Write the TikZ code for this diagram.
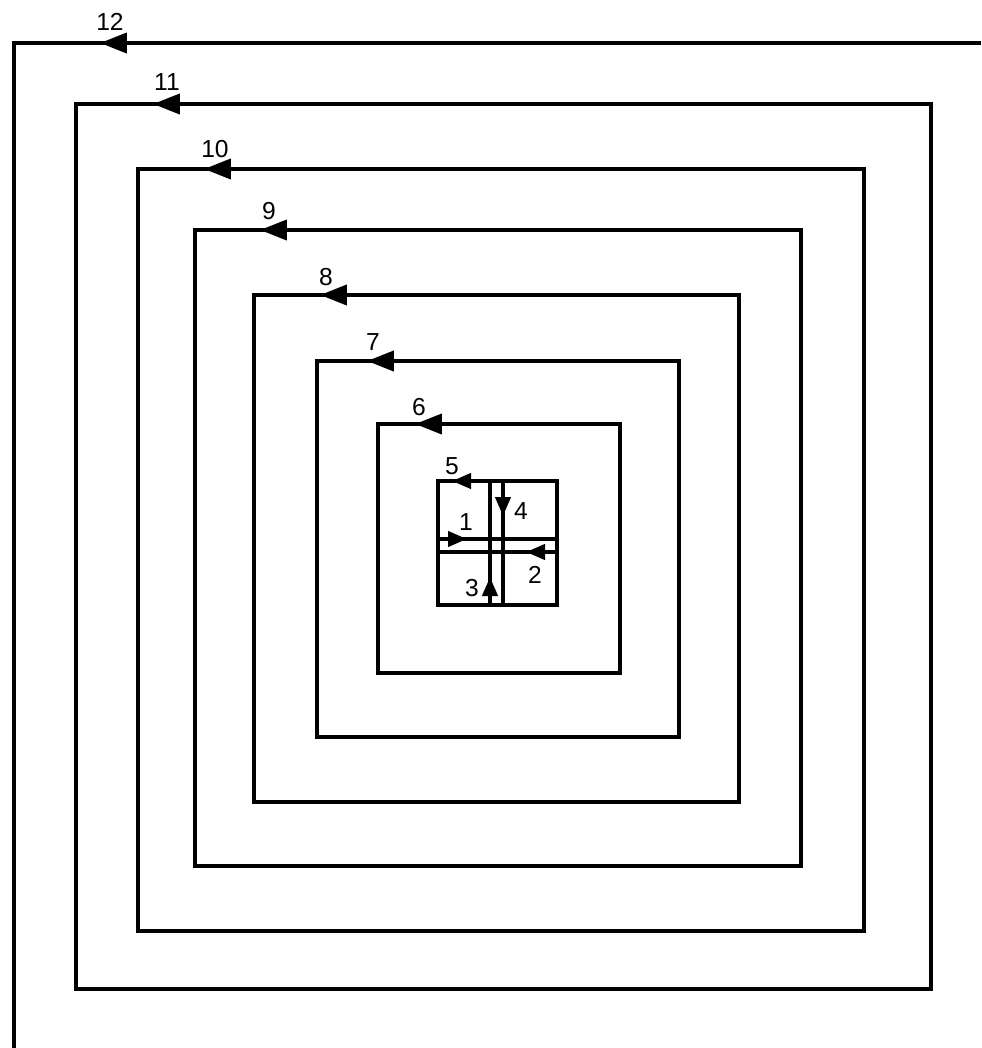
\documentclass[tikz,border=0pt]{standalone}
\usepackage{fontspec}
\setmainfont{Liberation Sans}
\usetikzlibrary{arrows.meta}

\begin{document}
\begin{tikzpicture}[
        x=0.02cm, y=-0.02cm,
        wall/.style={line width=2.3pt, line join=miter},
        bigtip/.style={line width=2.3pt, -{Triangle[length=0.54cm, width=0.4cm]}},
        smalltip/.style={line width=2.3pt, -{Triangle[length=0.38cm, width=0.3cm]}},
        number/.style={font=\fontsize{14}{16}\selectfont, inner sep=0pt}
    ]

        \useasboundingbox (0,0) rectangle (981,1048);

        % outer loops, all run counter-clockwise along the top
        \draw [wall] (981,43) -- (14,43) -- (14,1048);
        \draw [wall] (76,104) rectangle (931,989);
        \draw [wall] (138,169) rectangle (864,931);
        \draw [wall] (195,230) rectangle (801,866);
        \draw [wall] (254,295) rectangle (739,802);
        \draw [wall] (317,361) rectangle (679,737);
        \draw [wall] (378,424) rectangle (620,673);
        \draw [wall] (438,481) rectangle (557,605);

        % the crossing in the middle
        \draw [wall] (490,481) -- (490,605);
        \draw [wall] (503,481) -- (503,605);
        \draw [wall] (438,539) -- (557,539);
        \draw [wall] (438,552) -- (557,552);

        \draw [bigtip] (128,43) -- (100,43);
        \draw [bigtip] (182,104) -- (153,104);
        \draw [bigtip] (229,169) -- (204,169);
        \draw [bigtip] (288,230) -- (260,230);
        \draw [bigtip] (346,295) -- (320,295);
        \draw [bigtip] (394,361) -- (367,361);
        \draw [bigtip] (439,424) -- (415,424);
        \draw [smalltip] (474,481) -- (452,481);
        \draw [smalltip] (448,539) -- (467,539);
        \draw [smalltip] (545,552) -- (526,552);
        \draw [smalltip] (490,597) -- (490,577);
        \draw [smalltip] (503,495) -- (503,516);

        \node [number] (L12) at (110,22) {12};
        \node [number] (L11) at (167,82) {11};
        \node [number] (L10) at (215,149) {10};
        \node [number] (L9) at (269,211) {9};
        \node [number] (L8) at (326,277) {8};
        \node [number] (L7) at (373,342) {7};
        \node [number] (L6) at (419,407) {6};
        \node [number] (L5) at (452,466) {5};
        \node [number] (L1) at (466,522) {1};
        \node [number] (L4) at (521,511) {4};
        \node [number] (L2) at (535,575) {2};
        \node [number] (L3) at (472,588) {3};

    \end{tikzpicture}
\end{document}
